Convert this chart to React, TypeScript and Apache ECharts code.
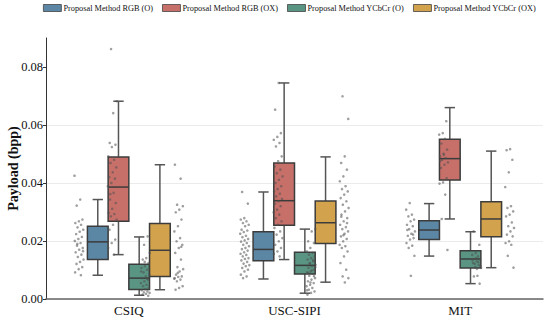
import React, { useEffect, useRef } from 'react';
import * as echarts from 'echarts';

const categories = ['CSIQ', 'USC-SIPI', 'MIT'];
const seriesNames = [
  'Proposal Method RGB (O)',
  'Proposal Method RGB (OX)',
  'Proposal Method YCbCr (O)',
  'Proposal Method YCbCr (OX)',
];
const colors = ['#5b87a5', '#c7706a', '#5a9482', '#d2a34c'];
const yTicks = [0, 0.02, 0.04, 0.06, 0.08];

// box stats [min, q1, median, q3, max] per category (CSIQ, USC-SIPI, MIT)
const boxRgbO = [
  [0.0082, 0.0136, 0.0197, 0.0251, 0.0343],
  [0.0069, 0.0132, 0.0171, 0.0232, 0.0369],
  [0.0148, 0.0205, 0.0238, 0.027, 0.0329],
];
const boxRgbOX = [
  [0.0153, 0.0268, 0.0386, 0.049, 0.0682],
  [0.0136, 0.0254, 0.0339, 0.0469, 0.0745],
  [0.0276, 0.041, 0.0484, 0.0551, 0.066],
];
const boxYcbcrO = [
  [0.0013, 0.0033, 0.0072, 0.012, 0.0214],
  [0.002, 0.0086, 0.0116, 0.0161, 0.0241],
  [0.0053, 0.0107, 0.0138, 0.0166, 0.0232],
];
const boxYcbcrOX = [
  [0.0032, 0.0078, 0.0168, 0.026, 0.0463],
  [0.0058, 0.0191, 0.0263, 0.0338, 0.049],
  [0.0108, 0.0215, 0.0276, 0.0335, 0.051],
];

// individual payload values (strip points)
const csiqRgbO = [0.0425, 0.0343, 0.0322, 0.0274, 0.0268, 0.0262, 0.0256, 0.0247, 0.0239, 0.0232, 0.0224, 0.0214, 0.0207, 0.02, 0.0193, 0.0184, 0.0176, 0.017, 0.0161, 0.0153, 0.0145, 0.0136, 0.0128, 0.0121, 0.011, 0.0103, 0.0092, 0.0082, 0.019, 0.0165];
const csiqRgbOX = [0.0862, 0.0682, 0.0641, 0.0538, 0.0532, 0.0524, 0.0492, 0.048, 0.0469, 0.0454, 0.0437, 0.042, 0.0415, 0.04, 0.0389, 0.0366, 0.0343, 0.0331, 0.0311, 0.0297, 0.0293, 0.0285, 0.0274, 0.0256, 0.0239, 0.0205, 0.0193, 0.0176, 0.0153, 0.0362];
const csiqYcbcrO = [0.0216, 0.0187, 0.0159, 0.0141, 0.0136, 0.0124, 0.0113, 0.0107, 0.0101, 0.0092, 0.0084, 0.0078, 0.0072, 0.0067, 0.0061, 0.0055, 0.0049, 0.0044, 0.0038, 0.0034, 0.003, 0.0026, 0.0023, 0.0021, 0.0018, 0.0015, 0.0011, 0.0128, 0.0095, 0.007];
const csiqYcbcrOX = [0.0463, 0.0415, 0.0325, 0.032, 0.0308, 0.0299, 0.0274, 0.0251, 0.0233, 0.021, 0.0199, 0.0187, 0.0176, 0.0159, 0.0136, 0.011, 0.0103, 0.0095, 0.0084, 0.0078, 0.0076, 0.0072, 0.0067, 0.0061, 0.0044, 0.0038, 0.0032, 0.018, 0.009, 0.007];

const uscRgbO = [0.0369, 0.0329, 0.0279, 0.0274, 0.0268, 0.0262, 0.0256, 0.0251, 0.0239, 0.0236, 0.0231, 0.0225, 0.0218, 0.0213, 0.0207, 0.0202, 0.0198, 0.0193, 0.0187, 0.0182, 0.0176, 0.0172, 0.0167, 0.0161, 0.0156, 0.0152, 0.0147, 0.0141, 0.0138, 0.0133, 0.0128, 0.0122, 0.0117, 0.0113, 0.0107, 0.0101, 0.0095, 0.0084, 0.0078, 0.0072];
const uscRgbOX = [0.0745, 0.0653, 0.0572, 0.0559, 0.0549, 0.0538, 0.0526, 0.0492, 0.0475, 0.0457, 0.0446, 0.0434, 0.0423, 0.0411, 0.04, 0.0389, 0.0379, 0.0371, 0.0363, 0.0354, 0.0345, 0.0337, 0.0329, 0.032, 0.0308, 0.0299, 0.0291, 0.0279, 0.0268, 0.0256, 0.0245, 0.0233, 0.0222, 0.021, 0.0199, 0.0187, 0.0176, 0.0164, 0.0156, 0.0147];
const uscYcbcrO = [0.0241, 0.0233, 0.0199, 0.0193, 0.0176, 0.0164, 0.0159, 0.0153, 0.0147, 0.0141, 0.0136, 0.013, 0.0124, 0.0118, 0.0113, 0.0107, 0.0101, 0.0095, 0.0092, 0.0087, 0.008, 0.0072, 0.0067, 0.0061, 0.0055, 0.0049, 0.0044, 0.0038, 0.0032, 0.0026, 0.0021, 0.0015, 0.0134, 0.0122, 0.011, 0.0099, 0.009, 0.0079, 0.0057, 0.003];
const uscYcbcrOX = [0.0699, 0.0621, 0.0492, 0.0469, 0.0446, 0.0423, 0.0406, 0.0389, 0.0379, 0.0371, 0.036, 0.0348, 0.0337, 0.0325, 0.0314, 0.0302, 0.0291, 0.0279, 0.0268, 0.0256, 0.0248, 0.0241, 0.0233, 0.0225, 0.0216, 0.0207, 0.0199, 0.0187, 0.0182, 0.0176, 0.0164, 0.0147, 0.0124, 0.0101, 0.0078, 0.0072, 0.0057, 0.0284, 0.0262, 0.022];

const mitRgbO = [0.0331, 0.0308, 0.0291, 0.0285, 0.0274, 0.0268, 0.0256, 0.0251, 0.0241, 0.0233, 0.0225, 0.0218, 0.021, 0.0205, 0.0193, 0.0184, 0.0176, 0.0149, 0.008, 0.0238, 0.0222];
const mitRgbOX = [0.0613, 0.0572, 0.0567, 0.0552, 0.0536, 0.0515, 0.0501, 0.0492, 0.0486, 0.048, 0.0471, 0.0463, 0.0452, 0.0417, 0.0402, 0.0398, 0.036, 0.0276, 0.0169, 0.0497, 0.0476];
const mitYcbcrO = [0.0233, 0.0187, 0.0159, 0.0152, 0.0147, 0.0138, 0.0136, 0.013, 0.0124, 0.0118, 0.011, 0.0107, 0.008, 0.0078, 0.0053, 0.0141, 0.0133, 0.0127, 0.0121, 0.0113, 0.0104];
const mitYcbcrOX = [0.0517, 0.0513, 0.048, 0.0437, 0.0386, 0.032, 0.0314, 0.0302, 0.0291, 0.0285, 0.0264, 0.0251, 0.0245, 0.0233, 0.0222, 0.0216, 0.0199, 0.0193, 0.0187, 0.0149, 0.0108];

const FONT = 'Liberation Serif';

export default function App() {
  const ref = useRef<HTMLDivElement>(null);

  useEffect(() => {
    document.body.style.margin = '0';
    if (!ref.current) return;
    const chart = echarts.init(ref.current, undefined, { renderer: 'svg' });

    const boxes = [boxRgbO, boxRgbOX, boxYcbcrO, boxYcbcrOX];
    const points = [
      [csiqRgbO, csiqRgbOX, csiqYcbcrO, csiqYcbcrOX],
      [uscRgbO, uscRgbOX, uscYcbcrO, uscYcbcrOX],
      [mitRgbO, mitRgbOX, mitYcbcrO, mitYcbcrOX],
    ];

    const pointData: number[][] = [];
    points.forEach((group, c) =>
      group.forEach((vals, h) => vals.forEach((v, i) => pointData.push([c, v, h, i])))
    );

    const edge = '#3c3c3c';
    const whisker = '#555555';

    const boxSeries = boxes.map((stats, h) => ({
      type: 'custom',
      name: seriesNames[h],
      itemStyle: { color: colors[h], borderColor: edge, borderWidth: 1 },
      data: stats.map((s, i) => [i, ...s]),
      encode: { x: 0, y: [1, 2, 3, 4, 5] },
      z: 2,
      renderItem: (params: any, api: any) => {
        const cat = api.value(0);
        const bw = api.size([1, 0])[0];
        const cx = api.coord([cat, 0])[0] + (-0.1875 + 0.125 * h) * bw;
        const w = 0.125 * bw;
        const ys = [1, 2, 3, 4, 5].map((d) => api.coord([cat, api.value(d)])[1]);
        const lineStyle = { stroke: whisker, lineWidth: 1.5 };
        return {
          type: 'group',
          children: [
            { type: 'line', shape: { x1: cx, y1: ys[0], x2: cx, y2: ys[1] }, style: lineStyle },
            { type: 'line', shape: { x1: cx, y1: ys[3], x2: cx, y2: ys[4] }, style: lineStyle },
            { type: 'line', shape: { x1: cx - w / 4, y1: ys[0], x2: cx + w / 4, y2: ys[0] }, style: lineStyle },
            { type: 'line', shape: { x1: cx - w / 4, y1: ys[4], x2: cx + w / 4, y2: ys[4] }, style: lineStyle },
            {
              type: 'rect',
              shape: { x: cx - w / 2, y: ys[3], width: w, height: ys[1] - ys[3] },
              style: { fill: colors[h], stroke: edge, lineWidth: 1.5 },
            },
            { type: 'line', shape: { x1: cx - w / 2, y1: ys[2], x2: cx + w / 2, y2: ys[2] }, style: { stroke: edge, lineWidth: 1.5 } },
          ],
        };
      },
    }));

    const pointSeries = {
      type: 'custom',
      name: 'points',
      data: pointData,
      encode: { x: 0, y: 1 },
      z: 5,
      renderItem: (params: any, api: any) => {
        const cat = api.value(0);
        const h = api.value(2);
        const idx = api.value(3);
        const bw = api.size([1, 0])[0];
        const p = api.coord([cat, api.value(1)]);
        const r = ((idx * 0.6180339 + h * 0.37 + cat * 0.21) % 1) - 0.5;
        const x = p[0] + (-0.3 + 0.2 * h) * bw + r * 2 * 0.028 * bw;
        return {
          type: 'circle',
          shape: { cx: x, cy: p[1], r: 1.3 },
          style: { fill: 'rgba(80,80,80,0.55)' },
        };
      },
    };

    chart.setOption({
      animation: false,
      backgroundColor: '#ffffff',
      legend: {
        data: seriesNames.map((n, h) => ({
          name: n,
          itemStyle: { color: colors[h], borderColor: '#444', borderWidth: 0.8 },
        })),
        icon: 'rect',
        left: 43,
        top: 4,
        width: 508,
        padding: 0,
        itemWidth: 18,
        itemHeight: 7,
        itemGap: 9,
        selectedMode: false,
        textStyle: { fontFamily: FONT, fontSize: 8.3, color: '#111', padding: [0, 0, 0, -3] },
      },
      grid: { left: 46, right: 7, top: 38, bottom: 21, outerBoundsMode: 'none' },
      xAxis: {
        type: 'category',
        data: categories,
        axisLine: { lineStyle: { color: '#666', width: 1.5 } },
        axisTick: { alignWithLabel: true, length: 3, lineStyle: { color: '#555' } },
        axisLabel: { fontFamily: FONT, fontSize: 13, color: '#111', margin: 5 },
        splitLine: { show: false },
      },
      yAxis: {
        type: 'value',
        min: 0,
        max: 0.09,
        interval: 0.02,
        name: 'Payload (bpp)',
        nameLocation: 'middle',
        nameGap: 26,
        nameMoveOverlap: false,
        nameTextStyle: { fontFamily: FONT, fontSize: 14, fontWeight: 'bold', color: '#111' },
        axisLine: { show: true, lineStyle: { color: '#333', width: 1 } },
        axisTick: { show: true, length: 3, customValues: yTicks, lineStyle: { color: '#333' } },
        axisLabel: {
          customValues: yTicks,
          formatter: (v: number) => v.toFixed(2),
          fontFamily: FONT,
          fontSize: 12.5,
          color: '#111',
          margin: 3,
        },
        splitLine: { show: true, showMaxLine: false, lineStyle: { color: '#ebebeb', width: 1 } },
      },
      series: [...boxSeries, pointSeries],
    });

    return () => chart.dispose();
  }, []);

  return <div ref={ref} style={{ width: 550, height: 320 }} />;
}
